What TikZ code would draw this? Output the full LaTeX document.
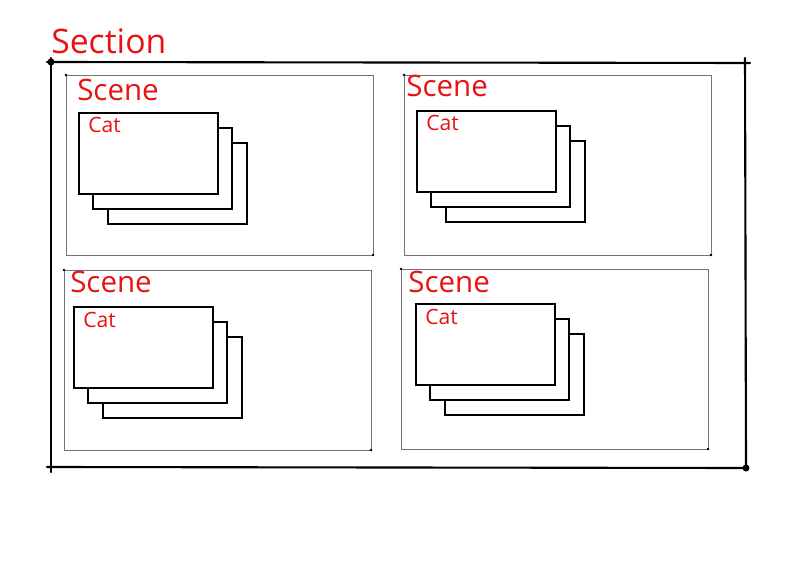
\documentclass[tikz,border=0pt]{standalone}
\usepackage{fontspec}
\setmainfont{Open Sans}
\usepackage{tikz}
\usetikzlibrary{calc, positioning}
\definecolor{sketchred}{RGB}{232,18,18}
\tikzset{
  % Section frame
  section/.style={line width=1.5pt, black, line cap=round},
  % Scene frame
  scene/.style={line width=0.6pt, black!55},
  % Cat card
  card/.style={draw, line width=0.9pt, fill=white},
  % Pen dot at a corner
  pendot/.style={circle, fill=black, inner sep=0pt, minimum size=#1},
  % Labels
  lbl/.style={text=sketchred, inner sep=0pt, anchor=base west},
  sectionlbl/.style={lbl, font=\fontsize{24}{24}\selectfont},
  scenelbl/.style={lbl, font=\fontsize{21}{21}\selectfont},
  catlbl/.style={lbl, font=\fontsize{15}{15}\selectfont},
}

\begin{document}
\begin{tikzpicture}[x=0.025cm, y=-0.025cm]
  \useasboundingbox (0,0) rectangle (800,563);

  % Section frame, sides overshoot a little
  \draw[section] (47,62) -- (750,63);
  \draw[section] (745,58) -- (746,468);
  \draw[section] (47,467) -- (746,468);
  \draw[section] (51,58) -- (51,472);
  \node[pendot=5pt] (secTL) at (51,62) {};
  \node[pendot=5pt] (secBR) at (746,468) {};
  \node[sectionlbl] (section) at (51,54) {Section};

  % Scenes: frame corner / label / front card corner
  \foreach \sx/\sy/\lx/\ly/\cx/\cy/\n in {
      66/75/77/101/79/113/1,
      404/75/406/97/417/111/2,
      64/270/70/293/74/307/3,
      401/269/408/292/416/304/4} {
    \draw[scene] (\sx,\sy) rectangle ++(307,180);
    \node[pendot=2pt] at (\sx,\sy) {};
    \node[pendot=2pt] at ($(\sx,\sy)+(307,180)$) {};
    \node[scenelbl] (scene\n) at (\lx,\ly) {Scene};
    % stacked cards, back to front
    \draw[card] ($(\cx,\cy)+(29,30)$) rectangle ++(139,81);
    \draw[card] ($(\cx,\cy)+(14,15)$) rectangle ++(139,81);
    \draw[card] (\cx,\cy) rectangle ++(139,81);
    \node[catlbl] (cat\n) at ($(\cx,\cy)+(9,20)$) {Cat};
  }
\end{tikzpicture}
\end{document}
